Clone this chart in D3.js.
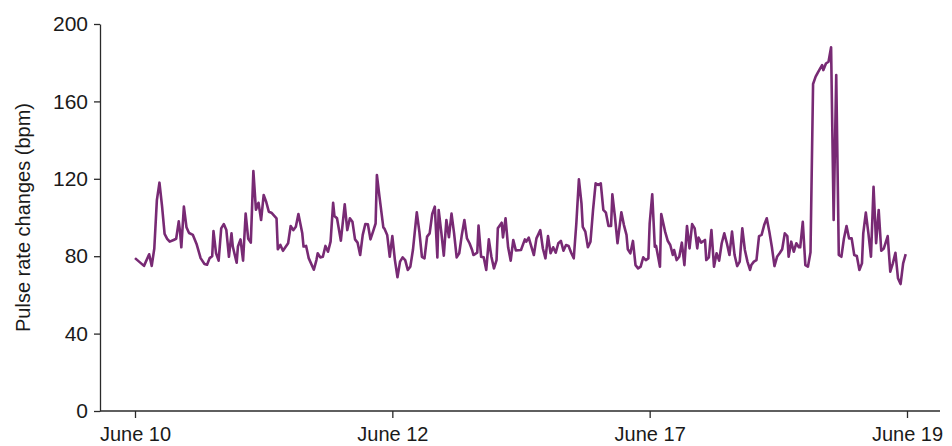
<!DOCTYPE html>
<meta charset="utf-8">
<style>
  body { margin: 0; background: #fff; }
  text { font-family: "Liberation Sans", Arial, sans-serif; }
</style>
<body></body>
<script src="https://d3js.org/d3.v7.min.js"></script>
<script>

var width = 952,
    height = 446;

// reading position (June 10 = 0 ... June 19 = 600) and pulse rate values
var reading = [0, 7, 11, 13, 15, 17, 19, 21, 23, 25, 27, 30, 32, 34, 35, 36, 38, 40, 42, 45,
  48, 51, 54, 56, 58, 60, 61, 63, 65, 67, 69, 71, 73, 75, 76, 79, 80, 82, 84, 86,
  88, 90, 92, 94, 96, 98, 100, 102, 104, 106, 110, 111, 113, 115, 119, 121, 123, 125, 127, 130,
  131, 133, 135, 139, 141, 142, 144, 146, 148, 150, 152, 154, 155, 157, 160, 163, 165, 167, 169, 171,
  173, 175, 177, 179, 181, 183, 185, 187, 188, 190, 193, 194, 196, 198, 200, 202, 204, 206, 208, 210,
  212, 214, 216, 219, 221, 223, 225, 227, 229, 231, 233, 235, 236, 238, 240, 242, 244, 246, 248, 250,
  252, 254, 256, 258, 260, 262, 263, 266, 267, 269, 271, 273, 275, 277, 279, 281, 282, 285, 286, 288,
  290, 292, 294, 296, 300, 303, 304, 306, 310, 312, 315, 317, 319, 321, 323, 325, 327, 329, 331, 333,
  335, 337, 339, 341, 343, 345, 347, 348, 350, 352, 354, 356, 358, 360, 362, 364, 366, 368, 370, 371,
  373, 375, 378, 380, 382, 383, 385, 387, 389, 391, 393, 395, 397, 399, 400, 402, 404, 405, 408, 409,
  412, 414, 416, 418, 419, 421, 423, 425, 427, 429, 431, 433, 435, 437, 438, 440, 443, 444, 446, 448,
  450, 452, 454, 456, 458, 460, 462, 464, 466, 468, 470, 472, 474, 476, 478, 479, 481, 483, 485, 487,
  489, 491, 493, 495, 497, 499, 501, 503, 505, 507, 508, 510, 512, 514, 516, 517, 519, 521, 523, 525,
  527, 529, 531, 534, 535, 537, 539, 541, 543, 545, 547, 549, 551, 553, 555, 557, 559, 561, 563, 565,
  566, 568, 570, 572, 574, 576, 578, 580, 582, 585, 587, 589, 591, 593, 595, 597, 599];

var pulse = [79, 75, 81, 75, 84, 109, 118, 106, 91.5, 89, 87.5, 88.4, 89, 98, 92.7, 84.6, 105.6, 95, 92, 91,
  86, 79, 76, 75.6, 79, 80, 93, 81.5, 77.7, 94.4, 96.6, 93.5, 79.7, 91.8, 85, 76.6, 85, 88.7, 77.7, 102,
  89, 87, 124, 104, 107.6, 98.7, 111.6, 108, 103, 102.5, 99.6, 83.6, 85.8, 82.8, 86.7, 95.6, 93.5, 95.2, 101.8, 91.8,
  85, 85.3, 79, 73, 78, 81.5, 79.4, 79.7, 85.3, 82.3, 87.5, 107.6, 100.8, 99.6, 88, 106.8, 93.5, 99.6, 97.8, 88.7,
  87, 80.6, 91, 96.6, 96.5, 88.7, 92.7, 96.9, 122, 110.8, 94.9, 94.1, 91, 79.7, 90.4, 78, 69.1, 77.2, 79.4, 78,
  72.9, 74.6, 83.2, 102.7, 92.7, 79.7, 78.9, 90.1, 91.8, 101.8, 105.6, 79.4, 103.9, 92.7, 80.3, 98.7, 89.8, 102, 91.8, 79.4,
  81.5, 91, 98.7, 89.2, 86.7, 83.2, 80.6, 81.8, 95.8, 79.7, 79.4, 72.9, 88.7, 79.7, 73.7, 78, 94.4, 97.3, 89.7, 99.6,
  84.6, 77.7, 88.4, 83, 83.2, 88.7, 87.5, 89.6, 80.6, 89.2, 93.5, 84, 78.9, 90.4, 81.5, 84.6, 81.8, 86.7, 87.9, 82.8,
  85.8, 85.3, 81.8, 78.9, 96.9, 119.7, 107.3, 95.2, 92.7, 84.6, 87.5, 103.9, 117.7, 116.8, 117.7, 103.9, 102.5, 95.6, 95.6, 112,
  100.4, 86.7, 102.7, 96.1, 91, 83.6, 81.5, 87.9, 75.4, 73.7, 74.6, 79.4, 78, 78.9, 96.9, 112, 84.9, 85.3, 74.6, 101.8,
  92.7, 88, 85.8, 80.6, 83.2, 78, 79.7, 87, 75.4, 95.6, 84, 96.6, 94.4, 84, 89.6, 87, 88.4, 78, 79.4, 93.5,
  74.6, 81.5, 77.7, 86.7, 91.8, 86.7, 80.6, 92.7, 80.6, 74.9, 77.2, 94.4, 83.2, 77.2, 72.9, 75.4, 77.2, 78, 90.4, 91,
  96.1, 99.6, 92.7, 84.6, 74.9, 79.7, 81.5, 83.6, 91.8, 90.4, 79.7, 87.5, 82.3, 86.7, 84.6, 84.6, 97.8, 75.4, 74.6, 82,
  169, 172.8, 175.3, 178.8, 176.2, 179.6, 180.5, 188, 98.7, 173.6, 80.6, 79.7, 89.2, 95.6, 89.2, 89.2, 80.6, 80.1, 72.9, 76.3,
  91.8, 102.5, 91.8, 79.7, 115.9, 86.7, 103.9, 82.8, 84, 90.4, 72, 76.3, 81.8, 68.6, 65.6, 76.3, 81.1];

var dayTicks = [0, 200, 400, 600],
    dayLabels = ["June 10", "June 12", "June 17", "June 19"],
    yTicks = [0, 40, 80, 120, 160, 200];

var data = reading.map(function(r, i) { return {r: r, v: pulse[i]}; });

var axisLeftX = 100, axisRightX = 940, plotTop = 24, plotBottom = 411;

var x = d3.scaleLinear().domain([0, 600]).range([135, 907]);
var y = d3.scaleLinear().domain([0, 200]).range([plotBottom, plotTop]);

var svg = d3.select("body").append("svg")
    .attr("width", width)
    .attr("height", height);

// y axis
var yAxis = svg.append("g")
    .attr("transform", "translate(" + axisLeftX + ",0)")
    .call(d3.axisLeft(y).tickValues(yTicks).tickSize(6).tickPadding(6).tickSizeOuter(0));
yAxis.select(".domain").attr("stroke", "#2a2a2a").attr("stroke-width", 1.3);
yAxis.selectAll(".tick line").attr("stroke", "#2a2a2a").attr("stroke-width", 1.3);
yAxis.selectAll("text")
    .attr("font-size", 21)
    .attr("fill", "#1a1a1a")
    .style("font-family", "'Liberation Sans', Arial, sans-serif");

// x axis
var xAxis = svg.append("g")
    .attr("transform", "translate(0," + plotBottom + ")")
    .call(d3.axisBottom(x).tickValues(dayTicks)
      .tickFormat(function(d, i) { return dayLabels[i]; })
      .tickSize(7).tickPadding(9));
xAxis.select(".domain").remove();
xAxis.append("line")
    .attr("x1", axisLeftX).attr("x2", axisRightX)
    .attr("stroke", "#2a2a2a").attr("stroke-width", 1.3);
xAxis.selectAll(".tick line").attr("stroke", "#2a2a2a").attr("stroke-width", 1.3);
xAxis.selectAll("text")
    .attr("font-size", 20)
    .attr("fill", "#1a1a1a")
    .style("font-family", "'Liberation Sans', Arial, sans-serif");

// y title
svg.append("text")
    .attr("transform", "translate(30," + ((plotTop + plotBottom) / 2) + ") rotate(-90)")
    .attr("text-anchor", "middle")
    .attr("font-size", 20)
    .attr("fill", "#1a1a1a")
    .text("Pulse rate changes (bpm)");

// line
var line = d3.line()
    .x(function(d) { return x(d.r); })
    .y(function(d) { return y(d.v); });

svg.append("path")
    .datum(data)
    .attr("fill", "none")
    .attr("stroke", "#782a74")
    .attr("stroke-width", 2.6)
    .attr("stroke-linejoin", "round")
    .attr("d", line);

</script>
